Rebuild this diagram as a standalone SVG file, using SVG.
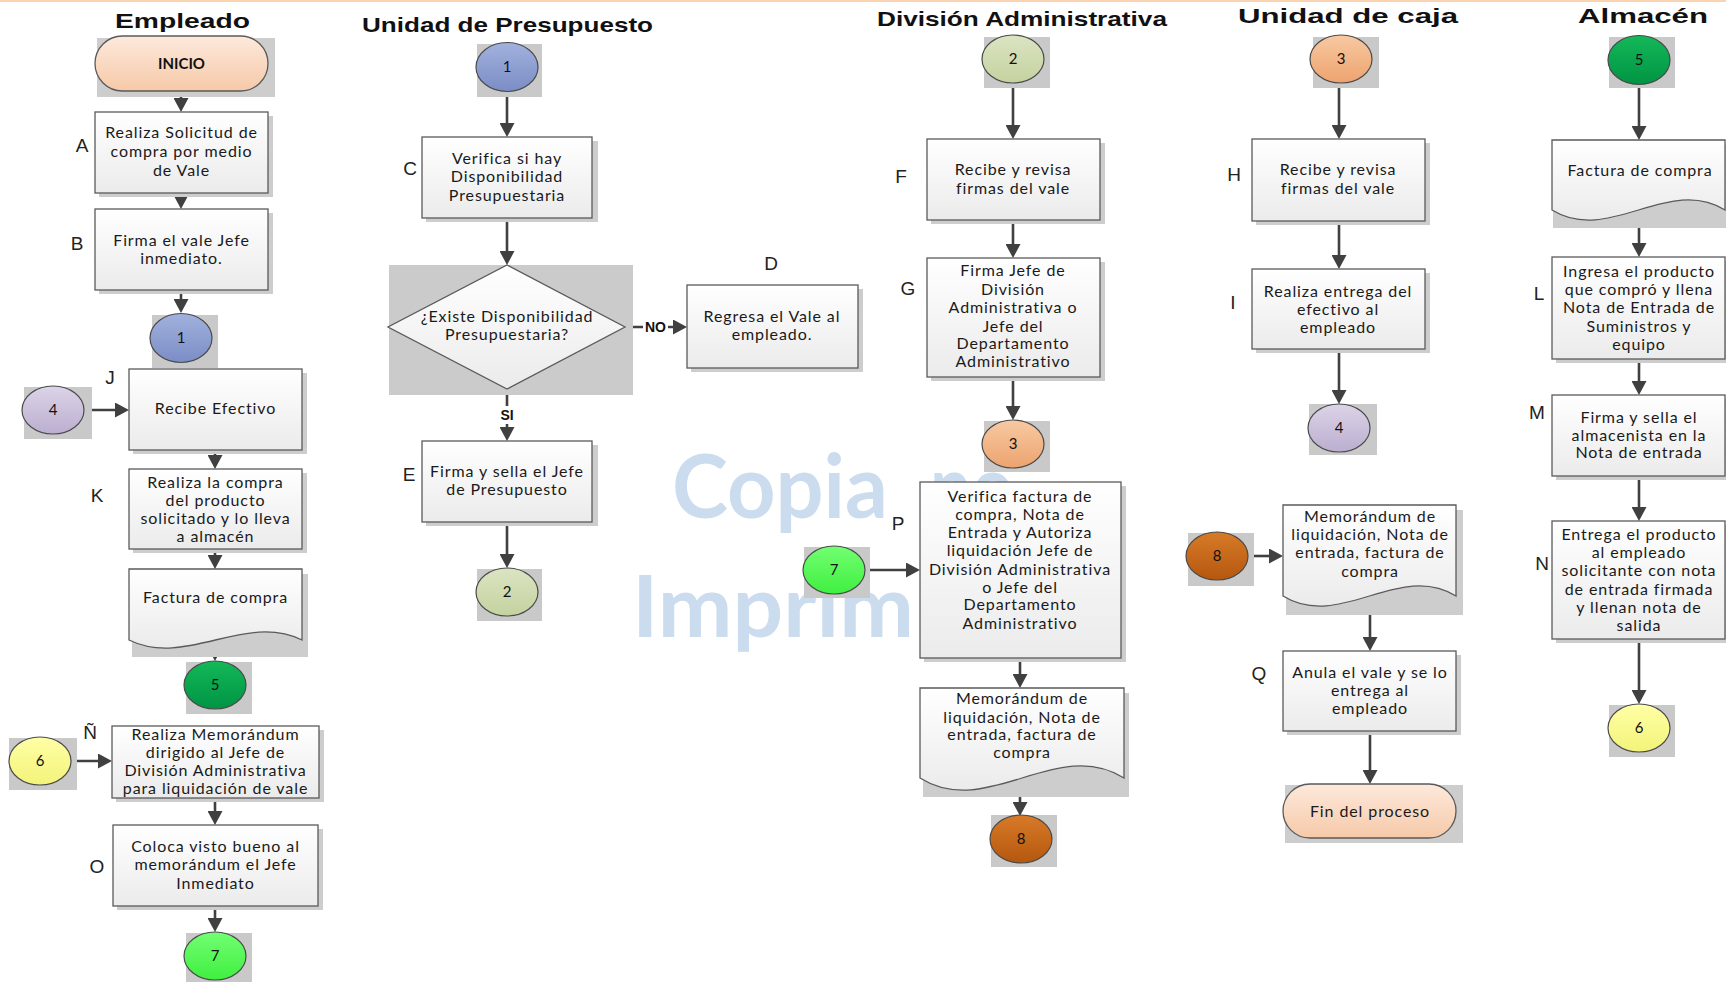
<svg xmlns="http://www.w3.org/2000/svg" width="1726" height="982" viewBox="0 0 1726 982">
<defs>
<linearGradient id="gBox" x1="0" y1="0" x2="0" y2="1"><stop offset="0" stop-color="#ffffff"/><stop offset="1" stop-color="#ebebeb"/></linearGradient>
<linearGradient id="gTerm" x1="0" y1="0" x2="0" y2="1"><stop offset="0" stop-color="#fde9dc"/><stop offset="1" stop-color="#f6c9a8"/></linearGradient>
<linearGradient id="g1" x1="0" y1="0" x2="0" y2="1"><stop offset="0" stop-color="#a2b1de"/><stop offset="1" stop-color="#7a8dc5"/></linearGradient>
<linearGradient id="g2" x1="0" y1="0" x2="0" y2="1"><stop offset="0" stop-color="#dbe4c2"/><stop offset="1" stop-color="#c4d29f"/></linearGradient>
<linearGradient id="g3" x1="0" y1="0" x2="0" y2="1"><stop offset="0" stop-color="#f8c9a2"/><stop offset="1" stop-color="#eda36f"/></linearGradient>
<linearGradient id="g4" x1="0" y1="0" x2="0" y2="1"><stop offset="0" stop-color="#dcd4e8"/><stop offset="1" stop-color="#bbaed0"/></linearGradient>
<linearGradient id="g5" x1="0" y1="0" x2="0" y2="1"><stop offset="0" stop-color="#14b85a"/><stop offset="1" stop-color="#009443"/></linearGradient>
<linearGradient id="g6" x1="0" y1="0" x2="0" y2="1"><stop offset="0" stop-color="#ffffa6"/><stop offset="1" stop-color="#f3f37a"/></linearGradient>
<linearGradient id="g7" x1="0" y1="0" x2="0" y2="1"><stop offset="0" stop-color="#72ff72"/><stop offset="1" stop-color="#40ef40"/></linearGradient>
<linearGradient id="g8" x1="0" y1="0" x2="0" y2="1"><stop offset="0" stop-color="#d77a28"/><stop offset="1" stop-color="#b5580f"/></linearGradient>
<marker id="arr" markerUnits="userSpaceOnUse" markerWidth="15" markerHeight="15" viewBox="0 0 14 15" refX="8" refY="7.5" orient="auto"><path d="M0,0 L14,7.5 L0,15 z" fill="#404040"/></marker>
<style>
.box{fill:url(#gBox);stroke:#5a5a5a;stroke-width:1.3}
.sh{fill:#cdcdcd}
.esh{fill:#c9c9c9}
.ell{stroke:#4a4a4a;stroke-width:1.2}
.t{font-family:Lato,"Open Sans",sans-serif;font-size:16px;letter-spacing:0.9px;fill:#1a1a1a;text-anchor:middle}
.n{font-family:Lato,"Open Sans",sans-serif;font-size:15px;fill:#111;text-anchor:middle}
.b{font-weight:bold}
.lbl{font-family:"Liberation Sans",Arial,sans-serif;font-size:19px;fill:#222;text-anchor:middle}
.title{font-family:"Liberation Sans",Arial,sans-serif;font-size:21px;font-weight:bold;fill:#111}
.conn{stroke:#404040;stroke-width:2.6;fill:none;marker-end:url(#arr)}
.wm{font-family:Lato,"Open Sans",sans-serif;font-weight:bold;fill:#cadcee}
</style>
</defs>
<rect x="0" y="0" width="1726" height="982" fill="#ffffff"/>
<rect x="0" y="0" width="1726" height="2" fill="#f9d3b2"/>

<g id="watermark">
<text class="wm" x="672" y="518" font-size="88" textLength="216" lengthAdjust="spacingAndGlyphs">Copia</text>
<text class="wm" x="930" y="518" font-size="88" textLength="84" lengthAdjust="spacingAndGlyphs">no</text>
<text class="wm" x="632" y="637" font-size="86" textLength="282" lengthAdjust="spacingAndGlyphs">Imprim</text>
</g>

<g id="titles">
<text class="title" x="115" y="28" textLength="135" lengthAdjust="spacingAndGlyphs">Empleado</text>
<text class="title" x="362" y="32" textLength="291" lengthAdjust="spacingAndGlyphs">Unidad de Presupuesto</text>
<text class="title" x="877" y="26" textLength="290" lengthAdjust="spacingAndGlyphs">División Administrativa</text>
<text class="title" x="1238" y="23" textLength="220" lengthAdjust="spacingAndGlyphs">Unidad de caja</text>
<text class="title" x="1578" y="23" textLength="130" lengthAdjust="spacingAndGlyphs">Almacén</text>
</g>

<g id="connectors">
<path class="conn" d="M181,91 V106"/>
<path class="conn" d="M181,193 V203"/>
<path class="conn" d="M181,290 V307"/>
<path class="conn" d="M84,410 H123"/>
<path class="conn" d="M215,450 V463"/>
<path class="conn" d="M215,549 V563"/>
<path class="conn" d="M215,641 V655"/>
<path class="conn" d="M71,761 H106"/>
<path class="conn" d="M215,798 V819"/>
<path class="conn" d="M215,906 V926"/>
<path class="conn" d="M507,92 V131"/>
<path class="conn" d="M507,218 V259"/>
<path class="conn" d="M625,327 H681"/>
<path class="conn" d="M507,389 V435"/>
<path class="conn" d="M507,522 V562"/>
<path class="conn" d="M1013,83 V133"/>
<path class="conn" d="M1013,220 V252"/>
<path class="conn" d="M1013,377 V414"/>
<path class="conn" d="M865,570 H914"/>
<path class="conn" d="M1020,658 V682"/>
<path class="conn" d="M1020,778 V810"/>
<path class="conn" d="M1339,83 V133"/>
<path class="conn" d="M1339,221 V263"/>
<path class="conn" d="M1339,349 V398"/>
<path class="conn" d="M1249,556 H1277"/>
<path class="conn" d="M1370,596 V645"/>
<path class="conn" d="M1370,731 V778"/>
<path class="conn" d="M1639,85 V134"/>
<path class="conn" d="M1639,210 V251"/>
<path class="conn" d="M1639,359 V389"/>
<path class="conn" d="M1639,476 V515"/>
<path class="conn" d="M1639,639 V698"/>
<rect x="643" y="318" width="25" height="18" fill="#ffffff"/>
<text x="655.5" y="332" font-family="Liberation Sans, Arial, sans-serif" font-size="14" font-weight="bold" text-anchor="middle" fill="#111">NO</text>
<rect x="497" y="406" width="20" height="18" fill="#ffffff"/>
<text x="507" y="420" font-family="Liberation Sans, Arial, sans-serif" font-size="14" font-weight="bold" text-anchor="middle" fill="#111">SI</text>
</g>

<!-- Empleado -->
<g id="inicio">
<rect class="sh" x="97" y="38" width="178" height="59"/>
<rect x="95" y="36" width="173" height="55" rx="27.5" fill="url(#gTerm)" stroke="#5a5a5a" stroke-width="1.3"/>
<text class="n b" x="181.5" y="69" font-size="16">INICIO</text>
</g>
<g id="A">
<rect class="sh" x="99" y="116" width="174" height="81"/>
<rect class="box" x="95" y="112" width="173" height="81"/>
<text class="t" x="181.5" y="138">Realiza Solicitud de</text>
<text class="t" x="181.5" y="157">compra por medio</text>
<text class="t" x="181.5" y="176">de Vale</text>
<text class="lbl" x="82" y="152">A</text>
</g>
<g id="B">
<rect class="sh" x="99" y="213" width="174" height="81"/>
<rect class="box" x="95" y="209" width="173" height="81"/>
<text class="t" x="181.5" y="246">Firma el vale Jefe</text>
<text class="t" x="181.5" y="264">inmediato.</text>
<text class="lbl" x="77" y="250">B</text>
</g>
<g id="c1a">
<rect class="esh" x="152" y="315" width="66" height="53"/>
<ellipse class="ell" cx="181" cy="338" rx="31" ry="24.5" fill="url(#g1)"/>
<text class="n" x="181" y="343">1</text>
</g>
<g id="c4a">
<rect class="esh" x="24" y="387" width="68" height="52"/>
<ellipse class="ell" cx="53" cy="410" rx="31" ry="24" fill="url(#g4)"/>
<text class="n" x="53" y="415">4</text>
</g>
<g id="J">
<rect class="sh" x="133" y="373" width="174" height="81"/>
<rect class="box" x="129" y="369" width="173" height="81"/>
<text class="t" x="215.5" y="414">Recibe Efectivo</text>
<text class="lbl" x="110" y="384">J</text>
</g>
<g id="K">
<rect class="sh" x="133" y="473" width="174" height="80"/>
<rect class="box" x="129" y="469" width="173" height="80"/>
<text class="t" x="215.5" y="488">Realiza la compra</text>
<text class="t" x="215.5" y="506">del producto</text>
<text class="t" x="215.5" y="524">solicitado y lo lleva</text>
<text class="t" x="215.5" y="542">a almacén</text>
<text class="lbl" x="97" y="502">K</text>
</g>
<g id="docE">
<rect class="sh" x="132" y="574" width="176" height="83"/>
<path class="box" d="M129,569 H302 V640 C245,612 186,668 129,640 Z"/>
<text class="t" x="215.5" y="603">Factura de compra</text>
</g>
<g id="c5a">
<rect class="esh" x="186" y="662" width="66" height="52"/>
<ellipse class="ell" cx="215" cy="685" rx="31" ry="24" fill="url(#g5)"/>
<text class="n" x="215" y="690">5</text>
</g>
<g id="c6a">
<rect class="esh" x="9" y="738" width="68" height="52"/>
<ellipse class="ell" cx="40" cy="761" rx="31" ry="24" fill="url(#g6)"/>
<text class="n" x="40" y="766">6</text>
</g>
<g id="N1">
<rect class="sh" x="116" y="730" width="208" height="72"/>
<rect class="box" x="112" y="726" width="207" height="72"/>
<text class="t" x="215.5" y="740">Realiza Memorándum</text>
<text class="t" x="215.5" y="758">dirigido al Jefe de</text>
<text class="t" x="215.5" y="776">División Administrativa</text>
<text class="t" x="215.5" y="794">para liquidación de vale</text>
<text class="lbl" x="90" y="739">Ñ</text>
</g>
<g id="O">
<rect class="sh" x="117" y="829" width="206" height="81"/>
<rect class="box" x="113" y="825" width="205" height="81"/>
<text class="t" x="215.5" y="852">Coloca visto bueno al</text>
<text class="t" x="215.5" y="870">memorándum el Jefe</text>
<text class="t" x="215.5" y="889">Inmediato</text>
<text class="lbl" x="97" y="873">O</text>
</g>
<g id="c7a">
<rect class="esh" x="186" y="933" width="66" height="49"/>
<ellipse class="ell" cx="215" cy="956" rx="31" ry="24" fill="url(#g7)"/>
<text class="n" x="215" y="961">7</text>
</g>

<!-- Unidad de Presupuesto -->
<g id="c1b">
<rect class="esh" x="477" y="44" width="65" height="53"/>
<ellipse class="ell" cx="507" cy="67" rx="31" ry="24.5" fill="url(#g1)"/>
<text class="n" x="507" y="72">1</text>
</g>
<g id="C">
<rect class="sh" x="426" y="141" width="172" height="81"/>
<rect class="box" x="422" y="137" width="170" height="81"/>
<text class="t" x="507" y="164">Verifica si hay</text>
<text class="t" x="507" y="182">Disponibilidad</text>
<text class="t" x="507" y="201">Presupuestaria</text>
<text class="lbl" x="410" y="175">C</text>
</g>
<g id="decision">
<rect fill="#cbcbcb" x="389" y="265" width="244" height="130"/>
<path class="box" d="M507,265 L625,327 L507,389 L388,327 Z"/>
<text class="t" x="507" y="322">¿Existe Disponibilidad</text>
<text class="t" x="507" y="340">Presupuestaria?</text>
</g>
<g id="D">
<rect class="sh" x="691" y="289" width="172" height="83"/>
<rect class="box" x="687" y="285" width="171" height="83"/>
<text class="t" x="772" y="322">Regresa el Vale al</text>
<text class="t" x="772" y="340">empleado.</text>
<text class="lbl" x="771" y="270">D</text>
</g>
<g id="E">
<rect class="sh" x="426" y="445" width="172" height="81"/>
<rect class="box" x="422" y="441" width="170" height="81"/>
<text class="t" x="507" y="477">Firma y sella el Jefe</text>
<text class="t" x="507" y="495">de Presupuesto</text>
<text class="lbl" x="409" y="481">E</text>
</g>
<g id="c2a">
<rect class="esh" x="477" y="569" width="65" height="52"/>
<ellipse class="ell" cx="507" cy="592" rx="31" ry="24" fill="url(#g2)"/>
<text class="n" x="507" y="597">2</text>
</g>

<!-- División Administrativa -->
<g id="c2b">
<rect class="esh" x="984" y="37" width="66" height="51"/>
<ellipse class="ell" cx="1013" cy="59" rx="31" ry="24" fill="url(#g2)"/>
<text class="n" x="1013" y="64">2</text>
</g>
<g id="F">
<rect class="sh" x="931" y="143" width="174" height="81"/>
<rect class="box" x="927" y="139" width="173" height="81"/>
<text class="t" x="1013" y="175">Recibe y revisa</text>
<text class="t" x="1013" y="194">firmas del  vale</text>
<text class="lbl" x="901" y="183">F</text>
</g>
<g id="G">
<rect class="sh" x="931" y="262" width="174" height="119"/>
<rect class="box" x="927" y="258" width="173" height="119"/>
<text class="t" x="1013" y="276">Firma Jefe de</text>
<text class="t" x="1013" y="295">División</text>
<text class="t" x="1013" y="313">Administrativa o</text>
<text class="t" x="1013" y="332">Jefe del</text>
<text class="t" x="1013" y="349">Departamento</text>
<text class="t" x="1013" y="367">Administrativo</text>
<text class="lbl" x="908" y="295">G</text>
</g>
<g id="c3a">
<rect class="esh" x="984" y="421" width="66" height="51"/>
<ellipse class="ell" cx="1013" cy="444" rx="31" ry="24" fill="url(#g3)"/>
<text class="n" x="1013" y="449">3</text>
</g>
<g id="c7b">
<rect class="esh" x="804" y="547" width="66" height="51"/>
<ellipse class="ell" cx="834" cy="570" rx="31" ry="24" fill="url(#g7)"/>
<text class="n" x="834" y="575">7</text>
</g>
<g id="P">
<rect class="sh" x="924" y="486" width="202" height="176"/>
<rect class="box" x="920" y="482" width="201" height="176"/>
<text class="t" x="1020" y="502">Verifica factura de</text>
<text class="t" x="1020" y="520">compra, Nota de</text>
<text class="t" x="1020" y="538">Entrada y Autoriza</text>
<text class="t" x="1020" y="556">liquidación Jefe de</text>
<text class="t" x="1020" y="575">División Administrativa</text>
<text class="t" x="1020" y="593">o Jefe del</text>
<text class="t" x="1020" y="610">Departamento</text>
<text class="t" x="1020" y="629">Administrativo</text>
<text class="lbl" x="898" y="530">P</text>
</g>
<g id="memoP">
<rect class="sh" x="923" y="693" width="206" height="104"/>
<path class="box" d="M920,688 H1124 V778 C1057,736 987,820 920,778 Z"/>
<text class="t" x="1022" y="704">Memorándum de</text>
<text class="t" x="1022" y="723">liquidación, Nota de</text>
<text class="t" x="1022" y="740">entrada, factura de</text>
<text class="t" x="1022" y="758">compra</text>
</g>
<g id="c8a">
<rect class="esh" x="991" y="815" width="66" height="52"/>
<ellipse class="ell" cx="1021" cy="839" rx="31" ry="24" fill="url(#g8)"/>
<text class="n" x="1021" y="844">8</text>
</g>

<!-- Unidad de caja -->
<g id="c3b">
<rect class="esh" x="1313" y="37" width="66" height="51"/>
<ellipse class="ell" cx="1341" cy="59" rx="31" ry="24" fill="url(#g3)"/>
<text class="n" x="1341" y="64">3</text>
</g>
<g id="H">
<rect class="sh" x="1256" y="143" width="174" height="82"/>
<rect class="box" x="1252" y="139" width="173" height="82"/>
<text class="t" x="1338" y="175">Recibe y revisa</text>
<text class="t" x="1338" y="194">firmas del vale</text>
<text class="lbl" x="1234" y="181">H</text>
</g>
<g id="I">
<rect class="sh" x="1256" y="273" width="174" height="80"/>
<rect class="box" x="1252" y="269" width="173" height="80"/>
<text class="t" x="1338" y="297">Realiza entrega del</text>
<text class="t" x="1338" y="315">efectivo al</text>
<text class="t" x="1338" y="333">empleado</text>
<text class="lbl" x="1233" y="309">I</text>
</g>
<g id="c4b">
<rect class="esh" x="1309" y="404" width="68" height="51"/>
<ellipse class="ell" cx="1339" cy="428" rx="31" ry="24" fill="url(#g4)"/>
<text class="n" x="1339" y="433">4</text>
</g>
<g id="c8b">
<rect class="esh" x="1188" y="533" width="66" height="53"/>
<ellipse class="ell" cx="1217" cy="556" rx="31" ry="24" fill="url(#g8)"/>
<text class="n" x="1217" y="561">8</text>
</g>
<g id="memoC">
<rect class="sh" x="1286" y="510" width="177" height="105"/>
<path class="box" d="M1283,505 H1456 V596 C1399,561 1340,631 1283,596 Z"/>
<text class="t" x="1370" y="522">Memorándum de</text>
<text class="t" x="1370" y="540">liquidación, Nota de</text>
<text class="t" x="1370" y="558">entrada, factura de</text>
<text class="t" x="1370" y="577">compra</text>
</g>
<g id="Q">
<rect class="sh" x="1287" y="655" width="174" height="80"/>
<rect class="box" x="1283" y="651" width="173" height="80"/>
<text class="t" x="1370" y="678">Anula el vale y se lo</text>
<text class="t" x="1370" y="696">entrega al</text>
<text class="t" x="1370" y="714">empleado</text>
<text class="lbl" x="1259" y="680">Q</text>
</g>
<g id="fin">
<rect class="sh" x="1285" y="785" width="178" height="58"/>
<rect x="1283" y="784" width="173" height="54" rx="27" fill="url(#gTerm)" stroke="#5a5a5a" stroke-width="1.3"/>
<text class="t" x="1370" y="817">Fin del proceso</text>
</g>

<!-- Almacén -->
<g id="c5b">
<rect class="esh" x="1609" y="37" width="66" height="51"/>
<ellipse class="ell" cx="1639" cy="60" rx="31" ry="24.5" fill="url(#g5)"/>
<text class="n" x="1639" y="65">5</text>
</g>
<g id="docA">
<rect class="sh" x="1553" y="145" width="173" height="83"/>
<path class="box" d="M1552,140 H1725 V210 C1668,175 1609,245 1552,210 Z"/>
<text class="t" x="1640" y="176">Factura de compra</text>
</g>
<g id="L">
<rect class="sh" x="1556" y="261" width="170" height="102"/>
<rect class="box" x="1552" y="257" width="173" height="102"/>
<text class="t" x="1639" y="277">Ingresa el producto</text>
<text class="t" x="1639" y="295">que compró y llena</text>
<text class="t" x="1639" y="313">Nota de Entrada de</text>
<text class="t" x="1639" y="332">Suministros y</text>
<text class="t" x="1639" y="350">equipo</text>
<text class="lbl" x="1539" y="300">L</text>
</g>
<g id="M">
<rect class="sh" x="1556" y="399" width="170" height="81"/>
<rect class="box" x="1552" y="395" width="173" height="81"/>
<text class="t" x="1639" y="423">Firma y sella el</text>
<text class="t" x="1639" y="441">almacenista  en la</text>
<text class="t" x="1639" y="458">Nota de entrada</text>
<text class="lbl" x="1537" y="419">M</text>
</g>
<g id="N">
<rect class="sh" x="1556" y="525" width="170" height="118"/>
<rect class="box" x="1552" y="521" width="173" height="118"/>
<text class="t" x="1639" y="540">Entrega el producto</text>
<text class="t" x="1639" y="558">al empleado</text>
<text class="t" x="1639" y="576">solicitante con nota</text>
<text class="t" x="1639" y="595">de entrada firmada</text>
<text class="t" x="1639" y="613">y llenan nota de</text>
<text class="t" x="1639" y="631">salida</text>
<text class="lbl" x="1542" y="570">N</text>
</g>
<g id="c6b">
<rect class="esh" x="1609" y="705" width="66" height="52"/>
<ellipse class="ell" cx="1639" cy="728" rx="31" ry="24" fill="url(#g6)"/>
<text class="n" x="1639" y="733">6</text>
</g>
</svg>
